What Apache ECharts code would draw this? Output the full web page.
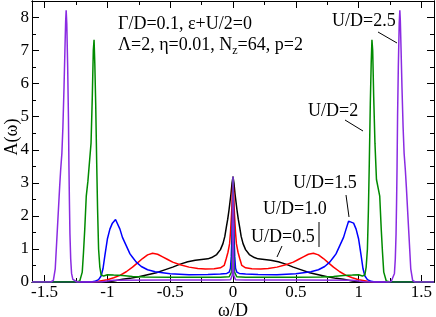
<!DOCTYPE html>
<html><head><meta charset="utf-8">
<script src="https://cdn.jsdelivr.net/npm/echarts@6/dist/echarts.min.js"></script>
<style>html,body{margin:0;padding:0;background:#fff}#c{width:436px;height:317px}</style>
</head><body><div id="c"></div>
<script>
const xMajor = [-1.5,-1,-0.5,0,0.5,1,1.5];
const xMinor = [-1.25,-0.75,-0.25,0.25,0.75,1.25];
const yMajor = [0,1,2,3,4,5,6,7,8];
const yMinor = [0.5,1.5,2.5,3.5,4.5,5.5,6.5,7.5];

const u05 = [[-1.6,0],[-1.1,0],[-1.0,0.01],[-0.95,0.03],[-0.88,0.08],[-0.82,0.11],[-0.75,0.16],[-0.68,0.22],[-0.61,0.28],[-0.55,0.36],[-0.48,0.45],[-0.42,0.54],[-0.36,0.61],[-0.3,0.66],[-0.25,0.68],[-0.2,0.7],[-0.17,0.74],[-0.13,0.83],[-0.1,0.98],[-0.08,1.16],[-0.065,1.38],[-0.053,1.66],[-0.042,1.9],[-0.032,2.17],[-0.024,2.42],[-0.016,2.67],[-0.008,2.98],[0,3.18],
[0.008,2.98],[0.016,2.67],[0.024,2.42],[0.032,2.17],[0.042,1.9],[0.053,1.66],[0.065,1.38],[0.08,1.16],[0.1,0.98],[0.13,0.83],[0.17,0.74],[0.2,0.7],[0.25,0.68],[0.3,0.66],[0.36,0.61],[0.42,0.54],[0.48,0.45],[0.55,0.36],[0.61,0.28],[0.68,0.22],[0.75,0.16],[0.82,0.11],[0.88,0.08],[0.95,0.03],[1.0,0.01],[1.1,0],[1.6,0]];

const u10 = [[-1.6,0],[-1.12,0],[-1.07,0.02],[-1.0,0.07],[-0.95,0.13],[-0.9,0.2],[-0.85,0.31],[-0.8,0.45],[-0.76,0.58],[-0.72,0.71],[-0.68,0.82],[-0.64,0.87],[-0.6,0.84],[-0.56,0.76],[-0.52,0.68],[-0.48,0.6],[-0.42,0.52],[-0.35,0.45],[-0.28,0.41],[-0.22,0.39],[-0.15,0.4],[-0.1,0.43],[-0.07,0.5],[-0.053,0.72],[-0.04,0.9],[-0.027,1.16],[-0.02,1.5],[-0.01,2.17],[-0.005,2.75],[0,3.18],
[0.005,2.75],[0.01,2.17],[0.02,1.5],[0.027,1.16],[0.04,0.9],[0.053,0.72],[0.07,0.5],[0.1,0.43],[0.15,0.4],[0.22,0.39],[0.28,0.41],[0.35,0.45],[0.42,0.52],[0.48,0.6],[0.52,0.68],[0.56,0.76],[0.6,0.84],[0.64,0.87],[0.68,0.82],[0.72,0.71],[0.76,0.58],[0.8,0.45],[0.85,0.31],[0.9,0.2],[0.95,0.13],[1.0,0.07],[1.07,0.02],[1.12,0],[1.6,0]];

const u15 = [[-1.6,0],[-1.13,0],[-1.1,0.02],[-1.07,0.07],[-1.05,0.18],[-1.035,0.4],[-1.02,0.8],[-1.0,1.3],[-0.98,1.6],[-0.96,1.78],[-0.935,1.89],[-0.92,1.84],[-0.9,1.6],[-0.88,1.35],[-0.85,1.1],[-0.82,0.85],[-0.8,0.75],[-0.77,0.6],[-0.73,0.47],[-0.68,0.37],[-0.62,0.31],[-0.5,0.25],[-0.35,0.22],[-0.2,0.23],[-0.1,0.24],[-0.05,0.26],[-0.03,0.3],[-0.02,0.42],[-0.014,0.76],[-0.009,1.3],[-0.005,2.0],[-0.002,2.7],[0,3.18],
[0.002,2.7],[0.005,2.0],[0.009,1.3],[0.014,0.76],[0.02,0.42],[0.03,0.3],[0.05,0.26],[0.1,0.24],[0.2,0.23],[0.35,0.22],[0.5,0.25],[0.62,0.31],[0.68,0.37],[0.73,0.47],[0.77,0.6],[0.8,0.75],[0.82,0.85],[0.85,1.1],[0.88,1.35],[0.9,1.6],[0.92,1.84],[0.935,1.89],[0.96,1.78],[0.98,1.6],[1.0,1.3],[1.02,0.8],[1.035,0.4],[1.05,0.18],[1.07,0.07],[1.1,0.02],[1.13,0],[1.6,0]];

const u20 = [[-1.6,0],[-1.25,0],[-1.22,0.03],[-1.2,0.3],[-1.19,0.9],[-1.18,1.6],[-1.168,2.6],[-1.155,3.05],[-1.142,3.1],[-1.13,4.2],[-1.12,5.6],[-1.112,7.0],[-1.106,7.33],[-1.1,6.6],[-1.093,5.4],[-1.085,3.6],[-1.078,2.2],[-1.07,1.0],[-1.06,0.45],[-1.05,0.22],[-1.03,0.18],[-1.0,0.22],[-0.95,0.21],[-0.88,0.2],[-0.8,0.17],[-0.7,0.15],[-0.5,0.14],[-0.3,0.14],[-0.1,0.14],[-0.03,0.16],[-0.012,0.3],[-0.006,0.8],[-0.003,2.0],[0,3.18],
[0.003,2.0],[0.006,0.8],[0.012,0.3],[0.03,0.16],[0.1,0.14],[0.3,0.14],[0.5,0.14],[0.7,0.15],[0.8,0.17],[0.88,0.2],[0.95,0.21],[1.0,0.22],[1.03,0.18],[1.05,0.22],[1.06,0.45],[1.07,1.0],[1.078,2.2],[1.085,3.6],[1.093,5.4],[1.1,6.6],[1.106,7.33],[1.112,7.0],[1.12,5.6],[1.13,4.2],[1.142,3.1],[1.155,3.05],[1.168,2.6],[1.18,1.6],[1.19,0.9],[1.2,0.3],[1.22,0.03],[1.25,0],[1.6,0]];

const u25 = [[-1.6,0],[-1.45,0],[-1.43,0.05],[-1.415,0.4],[-1.4,1.46],[-1.38,2.87],[-1.372,3.38],[-1.362,3.9],[-1.354,4.69],[-1.345,5.9],[-1.338,7.0],[-1.332,7.9],[-1.328,8.22],[-1.323,7.8],[-1.316,6.5],[-1.31,5.0],[-1.306,3.5],[-1.302,2.4],[-1.298,1.46],[-1.292,0.7],[-1.285,0.26],[-1.275,0.08],[-1.26,0.02],[-1.24,0],[-1.05,0],[-1.0,0.03],[-0.95,0.05],[-0.5,0.06],[-0.1,0.06],[-0.02,0.07],[-0.006,0.2],[-0.003,0.8],[-0.0015,2.0],[0,3.18],
[0.0015,2.0],[0.003,0.8],[0.006,0.2],[0.02,0.07],[0.1,0.06],[0.5,0.06],[0.95,0.05],[1.0,0.03],[1.05,0],[1.24,0],[1.26,0.02],[1.275,0.08],[1.285,0.26],[1.292,0.7],[1.298,1.46],[1.302,2.4],[1.306,3.5],[1.31,5.0],[1.316,6.5],[1.323,7.8],[1.328,8.22],[1.332,7.9],[1.338,7.0],[1.345,5.9],[1.354,4.69],[1.362,3.9],[1.372,3.38],[1.38,2.87],[1.4,1.46],[1.415,0.4],[1.43,0.05],[1.45,0],[1.6,0]];

const seriesDefs = [
  {name:'U/D=0.5', data:u05, color:'#000000'},
  {name:'U/D=1.0', data:u10, color:'#ff0000'},
  {name:'U/D=1.5', data:u15, color:'#0000ff'},
  {name:'U/D=2',   data:u20, color:'#008b00'},
  {name:'U/D=2.5', data:u25, color:'#8a2be2'}
];

const FONT = '"Liberation Serif", "Times New Roman", serif';
const chart = echarts.init(document.getElementById('c'), null, {renderer:'canvas'});

function xAx(pos, vals, len, labels){
  return {type:'value', min:-1.6, max:1.6, position:pos,
    axisLine:{show:true, onZero:false, lineStyle:{color:'#000', width:1}},
    splitLine:{show:false},
    axisTick:{show:true, inside:true, length:len, customValues:vals, lineStyle:{color:'#000', width:1}},
    axisLabel:labels ? {show:true, customValues:vals, margin:2, color:'#000', fontFamily:FONT, fontSize:17, formatter:v=>String(v)} : {show:false}
  };
}
function yAx(pos, vals, len, labels){
  return {type:'value', min:0, max:8.5, position:pos,
    axisLine:{show:true, onZero:false, lineStyle:{color:'#000', width:1}},
    splitLine:{show:false},
    axisTick:{show:true, inside:true, length:len, customValues:vals, lineStyle:{color:'#000', width:1}},
    axisLabel:labels ? {show:true, customValues:vals, margin:3, color:'#000', fontFamily:FONT, fontSize:17, formatter:v=>String(v)} : {show:false}
  };
}

const ctx = document.createElement('canvas').getContext('2d');
ctx.font = '18px ' + FONT;
const l2a = 'Λ=2, η=0.01, N';
const wA = ctx.measureText(l2a).width;
ctx.font = '12px ' + FONT;
const wZ = ctx.measureText('z').width;

const txt = (t, x, y, extra) => Object.assign({type:'text', x, y, z:100,
  style:{text:t, font:'18px ' + FONT, fill:'#000', textAlign:'left', textVerticalAlign:'middle'}}, extra||{});
const seg = (x1,y1,x2,y2) => ({type:'line', z:100, shape:{x1,y1,x2,y2}, style:{stroke:'#000', lineWidth:1}});

chart.setOption({
  animation:false,
  grid:{left:32, right:2, top:1, bottom:35, containLabel:false},
  xAxis:[xAx('bottom', xMajor, 7, true), xAx('bottom', xMinor, 4, false), xAx('top', xMajor, 7, false), xAx('top', xMinor, 4, false)],
  yAxis:[yAx('left', yMajor, 7, true), yAx('left', yMinor, 4, false), yAx('right', yMajor, 7, false), yAx('right', yMinor, 4, false)],
  series: seriesDefs.map(s => ({type:'line', name:s.name, data:s.data, xAxisIndex:0, yAxisIndex:0,
    showSymbol:false, symbol:'none', lineStyle:{color:s.color, width:1.5}, itemStyle:{color:s.color}, clip:true})),
  graphic:[
    txt('Γ/D=0.1, ε+U/2=0', 118, 24),
    txt(l2a, 118, 45),
    {type:'text', x:118 + wA, y:51, z:100, style:{text:'z', font:'12px ' + FONT, fill:'#000', textAlign:'left', textVerticalAlign:'middle'}},
    txt('=64, p=2', 118 + wA + wZ, 45),
    txt('U/D=2.5', 332, 21), seg(378,32,397,43),
    txt('U/D=2', 308, 111), seg(345,120,363,131),
    txt('U/D=1.5', 293, 183.5), seg(346,195,349,217),
    txt('U/D=1.0', 263, 209.5), seg(319,222,319,247),
    txt('U/D=0.5', 251, 237), seg(282,246,277,257),
    {type:'text', x:12, y:137, rotation:Math.PI/2, z:100, style:{text:'A(ω)', font:'18px ' + FONT, fill:'#000', textAlign:'center', textVerticalAlign:'middle'}},
    txt('ω/D', 233, 311, {style:{text:'ω/D', font:'18px ' + FONT, fill:'#000', textAlign:'center', textVerticalAlign:'middle'}})
  ]
});
</script></body></html>
